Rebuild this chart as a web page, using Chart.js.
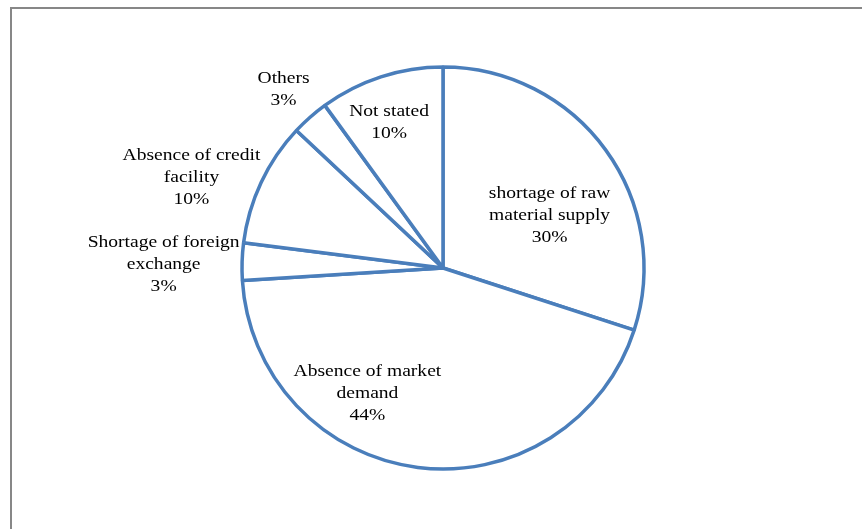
<!DOCTYPE html>
<html>
<head>
<meta charset="utf-8">
<script src="https://cdn.jsdelivr.net/npm/chart.js@4.4.1/dist/chart.umd.min.js"></script>
<style>
  html, body { margin: 0; padding: 0; background: #fff; overflow: hidden; }
  #wrap { position: relative; width: 862px; height: 529px; }
  #frame {
    position: absolute; left: 10px; top: 7px; width: 900px; height: 600px;
    border: 2.5px solid #878787; box-sizing: border-box;
  }
  canvas { position: absolute; left: 0; top: 0; }
</style>
</head>
<body>
<div id="wrap">
  <div id="frame"></div>
  <canvas id="chart" width="862" height="529"></canvas>
</div>
<script>
// Constraints reported by respondents (share of answers, %)
const categories = [
  ["shortage of raw", "material supply"],
  ["Absence of market", "demand"],
  ["Shortage of foreign", "exchange"],
  ["Absence of credit", "facility"],
  ["Others"],
  ["Not stated"],
];
const shares = [30, 44, 3, 10, 3, 10];

// Where each label sits: [angle from 12 o'clock in degrees, distance as a fraction of the radius]
const labelPlacement = [
  [64, 0.59],
  [211, 0.73],
  [270.8, 1.39],
  [289.8, 1.33],
  [318.2, 1.19],
  [339.6, 0.77],
];

const sliceLabels = {
  id: "sliceLabels",
  afterDatasetsDraw(chart) {
    const { ctx } = chart;
    const arcs = chart.getDatasetMeta(0).data;
    const lh = 22;
    ctx.save();
    ctx.fillStyle = "#000";
    ctx.font = '17px "Liberation Serif", "Times New Roman", serif';
    ctx.textAlign = "center";
    ctx.textBaseline = "middle";
    arcs.forEach((arc, i) => {
      const [deg, frac] = labelPlacement[i];
      const a = (deg - 90) * Math.PI / 180;
      const x = arc.x + Math.cos(a) * arc.outerRadius * frac;
      const y = arc.y + Math.sin(a) * arc.outerRadius * frac;
      const lines = [...categories[i], shares[i] + "%"];
      const y0 = -(lines.length - 1) * lh / 2;
      ctx.save();
      ctx.translate(x, y);
      ctx.scale(1.15, 1); // wide, stretched serif look
      lines.forEach((t, k) => ctx.fillText(t, 0, y0 + k * lh));
      ctx.restore();
    });
    ctx.restore();
  },
};

new Chart(document.getElementById("chart"), {
  type: "pie",
  data: {
    labels: categories.map((c) => c.join(" ")),
    datasets: [{
      data: shares,
      backgroundColor: "#ffffff",
      borderColor: "#4a7ebb",
      borderWidth: 3.5,
    }],
  },
  options: {
    responsive: false,
    animation: false,
    radius: 201,
    layout: { padding: { left: 24, top: 7 } },
    plugins: {
      legend: { display: false },
      tooltip: { enabled: false },
    },
  },
  plugins: [sliceLabels],
});
</script>
</body>
</html>
